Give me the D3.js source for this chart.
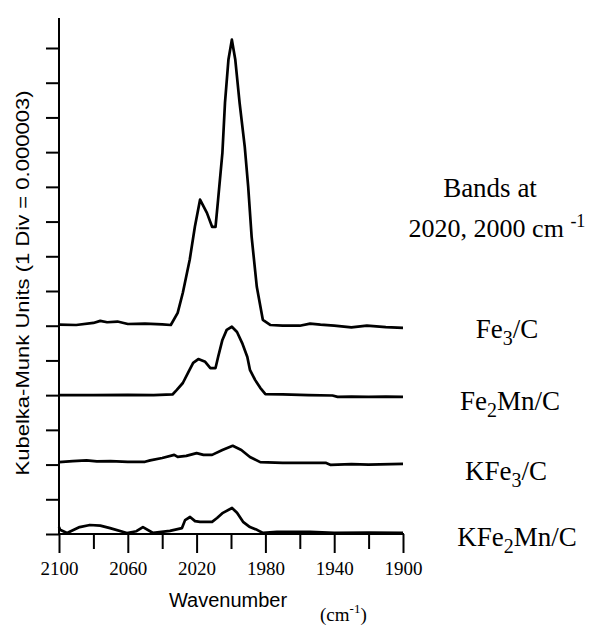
<!DOCTYPE html>
<html>
<head>
<meta charset="utf-8">
<script src="https://cdn.jsdelivr.net/npm/d3@7"></script>
<style>
  html, body { margin: 0; padding: 0; background: #fff; }
  svg { display: block; }
</style>
</head>
<body>
<svg id="chart" width="595" height="625"></svg>
<script>
// ---- data (intensities in axis divisions, relative to each trace's own baseline) ----
const seriesNames = ["Fe3/C", "Fe2Mn/C", "KFe3/C", "KFe2Mn/C"];
const seriesOffsets = [6, 4, 2, 0];   // baseline of each trace, in divisions

const fe3Wn  = [2100, 2090, 2080, 2076, 2072, 2066, 2060, 2050, 2040, 2035, 2031, 2028, 2024, 2021, 2018, 2014, 2011, 2009, 2007.5, 2005, 2003.5, 2001.5, 1999.5, 1997.5, 1995, 1992, 1990, 1988, 1985, 1981.5, 1977, 1970, 1960, 1954, 1948, 1940, 1930, 1921, 1910, 1900];
const fe3Val = [0.03, 0.02, 0.08, 0.14, 0.10, 0.12, 0.05, 0.06, 0.04, 0.02, 0.37, 0.95, 1.90, 2.85, 3.63, 3.25, 2.85, 2.85, 3.63, 4.98, 6.42, 7.66, 8.24, 7.66, 6.42, 5.15, 4.00, 2.56, 1.12, 0.17, 0.02, 0.00, 0.00, 0.06, 0.03, 0.00, -0.05, 0.00, -0.04, -0.06];

const fe2mnWn  = [2100, 2080, 2060, 2045, 2034, 2031.5, 2028, 2025, 2022, 2019, 2015, 2012, 2009, 2007.5, 2005, 2002.5, 1999.5, 1996.5, 1993.5, 1990.5, 1989, 1986, 1983, 1980, 1970, 1955, 1941, 1938, 1930, 1920, 1910, 1900];
const fe2mnVal = [0.00, 0.00, 0.01, 0.00, 0.02, 0.15, 0.35, 0.64, 0.93, 1.04, 0.96, 0.78, 0.78, 1.10, 1.59, 1.88, 1.97, 1.82, 1.50, 1.10, 0.73, 0.44, 0.21, 0.03, 0.02, 0.00, -0.01, -0.05, -0.04, -0.05, -0.04, -0.05];

const kfe3Wn  = [2100, 2092, 2084, 2078, 2070, 2060, 2050, 2047, 2040, 2033, 2031, 2026, 2020, 2016, 2011, 2005, 1999, 1994, 1989, 1983, 1970, 1945, 1942, 1930, 1920, 1900];
const kfe3Val = [0.07, 0.10, 0.12, 0.09, 0.10, 0.08, 0.08, 0.12, 0.19, 0.28, 0.22, 0.25, 0.33, 0.28, 0.28, 0.42, 0.54, 0.42, 0.22, 0.07, 0.05, 0.05, -0.01, 0.01, 0.00, 0.02];

const kfe2mnWn  = [2100, 2099.4, 2095.3, 2088, 2082, 2076, 2070.3, 2060.5, 2055, 2051.2, 2045.3, 2035.5, 2028.5, 2026.7, 2023.8, 2020.9, 2018, 2011, 2008.1, 2004.7, 1999.4, 1996.5, 1993, 1989, 1984.9, 1981.4, 1973.3, 1954, 1940, 1920, 1900];
const kfe2mnVal = [0.20, 0.12, 0.03, 0.20, 0.26, 0.24, 0.17, 0.03, 0.08, 0.20, 0.03, 0.09, 0.17, 0.40, 0.49, 0.37, 0.35, 0.35, 0.46, 0.61, 0.75, 0.61, 0.35, 0.20, 0.12, 0.03, 0.06, 0.06, 0.03, 0.04, 0.03];

const xTickMajor = [2100, 2060, 2020, 1980, 1940, 1900];
const xTickMinor = [2080, 2040, 2000, 1960, 1920];
const yTickDivs  = d3.range(0, 15);

// ---- layout ----
const svg = d3.select("#chart");
const x = d3.scaleLinear().domain([2100, 1900]).range([59, 403]);
const y = d3.scaleLinear().domain([0, 14]).range([534, 48]);
const serif = "'Liberation Serif', 'Times New Roman', serif";
const sans = "'Liberation Sans', Arial, sans-serif";

const series = [
  {name: seriesNames[0], off: seriesOffsets[0], wn: fe3Wn,   v: fe3Val},
  {name: seriesNames[1], off: seriesOffsets[1], wn: fe2mnWn, v: fe2mnVal},
  {name: seriesNames[2], off: seriesOffsets[2], wn: kfe3Wn,  v: kfe3Val},
  {name: seriesNames[3], off: seriesOffsets[3], wn: kfe2mnWn, v: kfe2mnVal}
];

// y axis (unlabelled ticks)
const gy = svg.append("g").attr("transform", "translate(59,0)")
  .call(d3.axisLeft(y).tickValues(yTickDivs).tickFormat("").tickSize(13).tickSizeOuter(0));
gy.select(".domain").remove();
gy.selectAll(".tick line").attr("stroke", "#000").attr("stroke-width", 2);
svg.append("line").attr("x1", 59).attr("x2", 59).attr("y1", 18).attr("y2", 535)
  .attr("stroke", "#000").attr("stroke-width", 2);

// x axis
const gx = svg.append("g").attr("transform", "translate(0,534)")
  .call(d3.axisBottom(x).tickValues(xTickMajor).tickFormat(d3.format("d")).tickSize(19).tickPadding(9).tickSizeOuter(0));
gx.select(".domain").remove();
gx.selectAll(".tick line").attr("stroke", "#000").attr("stroke-width", 2);
gx.selectAll(".tick text").attr("fill", "#000")
  .style("font-family", serif).style("font-size", "19px");
const gxm = svg.append("g").attr("transform", "translate(0,534)")
  .call(d3.axisBottom(x).tickValues(xTickMinor).tickFormat("").tickSize(15).tickSizeOuter(0));
gxm.select(".domain").remove();
gxm.selectAll(".tick line").attr("stroke", "#000").attr("stroke-width", 2);
svg.append("line").attr("x1", 58).attr("x2", 404).attr("y1", 534).attr("y2", 534)
  .attr("stroke", "#000").attr("stroke-width", 2);

// spectra
const line = d3.line().x(d => x(d[0])).y(d => y(d[1]));
series.forEach(s => {
  const pts = s.wn.map((w, i) => [w, s.v[i] + s.off]);
  svg.append("path").datum(pts).attr("d", line)
    .attr("fill", "none").attr("stroke", "#000").attr("stroke-width", 2.7)
    .attr("stroke-linejoin", "round");
});

// axis titles
svg.append("text")
  .attr("transform", "translate(29,283) rotate(-90)")
  .attr("text-anchor", "middle")
  .attr("textLength", 385).attr("lengthAdjust", "spacingAndGlyphs")
  .style("font-family", sans).style("font-size", "18px")
  .text("Kubelka-Munk Units (1 Div = 0.000003)");

svg.append("text").attr("x", 228).attr("y", 607).attr("text-anchor", "middle")
  .style("font-family", sans).style("font-size", "20px")
  .text("Wavenumber");

const cm = svg.append("text").attr("x", 320).attr("y", 621)
  .style("font-family", serif).style("font-size", "19px");
cm.append("tspan").text("(cm");
cm.append("tspan").attr("dy", -8).style("font-size", "13px").text("-1");
cm.append("tspan").attr("dy", 8).text(")");

// right-hand annotations
svg.append("text").attr("x", 490).attr("y", 197).attr("text-anchor", "middle")
  .style("font-family", serif).style("font-size", "27px").text("Bands at");
const t2 = svg.append("text").attr("x", 497).attr("y", 237).attr("text-anchor", "middle")
  .style("font-family", serif).style("font-size", "26px");
t2.append("tspan").text("2020, 2000 cm ");
t2.append("tspan").attr("dy", -10).style("font-size", "18px").text("-1");

function label(xc, yb, parts) {
  const t = svg.append("text").attr("x", xc).attr("y", yb).attr("text-anchor", "middle")
    .style("font-family", serif).style("font-size", "27px");
  parts.forEach(p => {
    if (p.sub) {
      t.append("tspan").attr("dy", 7).style("font-size", "20px").text(p.t);
    } else {
      t.append("tspan").attr("dy", p.after ? -7 : 0).text(p.t);
    }
  });
}
label(507, 338, [{t: "Fe"}, {t: "3", sub: true}, {t: "/C", after: true}]);
label(510, 410, [{t: "Fe"}, {t: "2", sub: true}, {t: "Mn/C", after: true}]);
label(506, 480, [{t: "KFe"}, {t: "3", sub: true}, {t: "/C", after: true}]);
label(517, 546, [{t: "KFe"}, {t: "2", sub: true}, {t: "Mn/C", after: true}]);
</script>
</body>
</html>
